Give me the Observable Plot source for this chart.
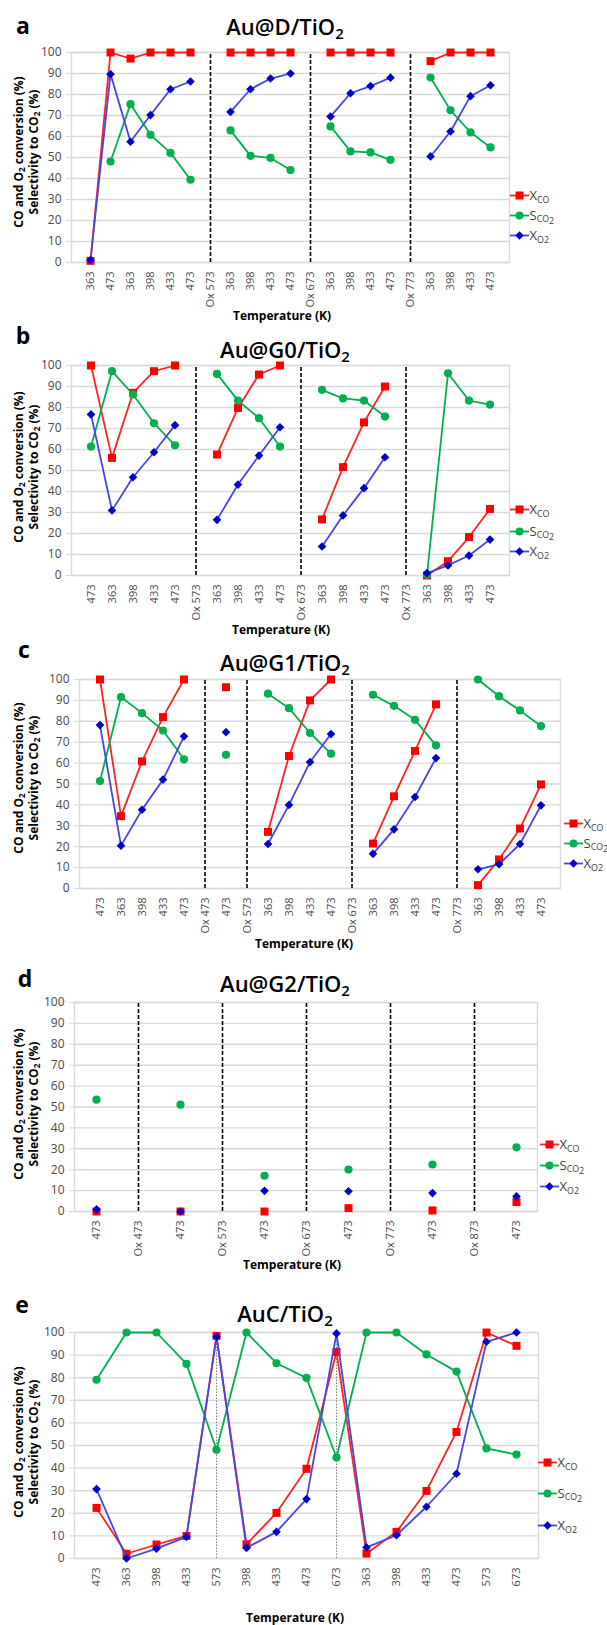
<!DOCTYPE html>
<html><head><meta charset="utf-8">
<script src="https://cdn.jsdelivr.net/npm/d3@7"></script>
<script src="https://cdn.jsdelivr.net/npm/@observablehq/plot@0.6"></script>
<style>
body{margin:0;background:#fff;}
#page{position:relative;width:607px;height:1625px;overflow:hidden;background:#fff;font-family:"Open Sans",sans-serif;}
.abs{position:absolute;white-space:nowrap;line-height:1;}
.c{transform:translate(-50%,-50%);}
.rot{transform:translate(-50%,-50%) rotate(-90deg);}
.letter{font-weight:700;font-size:23px;color:#000;}
.title{font-size:22px;font-weight:600;color:#000;}
.xt{font-size:12px;font-weight:700;color:#000;}
.yt{font-size:12px;font-weight:700;color:#000;}
.leg{font-size:13px;color:#404040;display:flex;align-items:center;}
sub{font-size:0.68em;line-height:0;vertical-align:-0.3em;}
sub sub{font-size:1em;vertical-align:-0.25em;}
svg.plot{position:absolute;left:0;}
</style>
</head><body><div id="page"></div>
<script>
// ---------- data ----------
// Panel a: Au@D/TiO2
const catsA = ["363","473","363","398","433","473","Ox 573","363","398","433","473","Ox 673","363","398","433","473","Ox 773","363","398","433","473"];
const xcoA  = [0.8,100,97.1,100,100,100,null,100,100,100,100,null,100,100,100,100,null,95.9,100,100,100];
const sco2A = [null,48.1,75.4,60.8,52.2,39.4,null,62.9,50.8,49.8,44,null,64.8,52.9,52.4,48.9,null,88.1,72.5,62,54.8];
const xo2A  = [1.1,89.7,57.5,70.2,82.5,86.2,null,71.7,82.5,87.6,90,null,69.5,80.6,84,88,null,50.5,62.4,79.2,84.4];

// Panel b: Au@G0/TiO2
const catsB = ["473","363","398","433","473","Ox 573","363","398","433","473","Ox 673","363","398","433","473","Ox 773","363","398","433","473"];
const xcoB  = [100,56,87,97.3,100,null,57.6,79.8,95.7,100,null,26.7,51.6,72.9,90,null,0,6.8,18.3,31.7];
const sco2B = [61.4,97.3,86.2,72.5,62,null,96,83.3,74.9,61.4,null,88.4,84.3,83.3,75.7,null,0.3,96.3,83.3,81.4];
const xo2B  = [76.7,31,46.8,58.7,71.6,null,26.5,43.3,57.1,70.6,null,13.8,28.6,41.6,56.3,null,1.1,4.8,9.5,17.1];

// Panel c: Au@G1/TiO2
const catsC = ["473","363","398","433","473","Ox 473","473","Ox 573","363","398","433","473","Ox 673","363","398","433","473","Ox 773","363","398","433","473"];
const xcoC  = [100,34.6,60.8,82,100,null,96.3,null,27.1,63.4,90,100,null,21.5,44.1,65.8,88.1,null,1.6,13.9,28.7,49.8];
const sco2C = [51.4,91.6,83.9,75.6,61.8,null,64,null,93.2,86.3,74.4,64.5,null,92.7,87.4,80.7,68.5,null,100,92,85.2,77.7];
const xo2C  = [78.2,20.5,37.7,52.1,72.8,null,74.8,null,21.3,40,60.5,73.9,null,16.6,28.3,43.8,62.4,null,9.2,11.6,21.3,39.8];

// Panel d: Au@G2/TiO2
const catsD = ["473","Ox 473","473","Ox 573","473","Ox 673","473","Ox 773","473","Ox 873","473"];
const xcoD  = [0,null,0,null,0,null,1.6,null,0.5,null,4.5];
const sco2D = [53.5,null,51.1,null,17.1,null,20.1,null,22.5,null,30.7];
const xo2D  = [1,null,0,null,9.9,null,9.7,null,8.8,null,7.2];

// Panel e: AuC/TiO2
const catsE = ["473","363","398","433","573","398","433","473","673","363","398","433","473","573","673"];
const xcoE  = [22.4,2.1,6.2,10,98.5,6.3,20.2,39.7,91.4,2.2,11.8,29.9,56,100,94.1];
const sco2E = [79.1,100,100,86.1,48.1,100,86.4,79.9,44.7,100,100,90.3,82.7,48.7,46];
const xo2E  = [30.7,0,4.4,9.6,98.1,4.7,11.8,26.3,99.6,4.9,10.3,22.9,37.5,95.9,100];
const dottedE = [4, 8];

const yTicks = [0,10,20,30,40,50,60,70,80,90,100];

// ---------- layout ----------
const panels = [
  {letter:"a", title:"Au@D/TiO<sub>2</sub>", cats:catsA, xco:xcoA, sco2:sco2A, xo2:xo2A,
   top:0, h:320, ml:71, mr:98, mt:52, mb:58,
   L:[23,25], T:[285,26], X:[282,316], Y:152, G:[519,[195,215,235]]},
  {letter:"b", title:"Au@G0/TiO<sub>2</sub>", cats:catsB, xco:xcoB, sco2:sco2B, xo2:xo2B,
   top:320, h:310, ml:71, mr:98, mt:45, mb:55,
   L:[23,335], T:[285,349], X:[281,630], Y:467, G:[519,[509,531,551]]},
  {letter:"c", title:"Au@G1/TiO<sub>2</sub>", cats:catsC, xco:xcoC, sco2:sco2C, xo2:xo2C,
   top:630, h:320, ml:79, mr:47, mt:49, mb:62,
   L:[24,649], T:[285,662], X:[304,944], Y:778, G:[573,[823,843,863]]},
  {letter:"d", title:"Au@G2/TiO<sub>2</sub>", cats:catsD, xco:xcoD, sco2:sco2D, xo2:xo2D,
   top:950, h:320, ml:74, mr:70, mt:52, mb:59,
   L:[25,978], T:[285,983], X:[292,1265], Y:1104, G:[549,[1144,1165,1186]]},
  {letter:"e", title:"AuC/TiO<sub>2</sub>", cats:catsE, xco:xcoE, sco2:sco2E, xo2:xo2E, dotted:dottedE,
   top:1270, h:355, ml:74, mr:69, mt:62, mb:67,
   L:[22,1304], T:[285,1313], X:[295,1618], Y:1442, G:[547,[1462,1493,1525]]}
];

const styles = [
  {key:"xco",  name:"X<sub>CO</sub>", line:"#ff2222", fill:"#ff0000", symbol:"square", r:4.5},
  {key:"sco2", name:"S<sub>CO<sub>2</sub></sub>", line:"#00b050", fill:"#00b050", symbol:"circle", r:4.1},
  {key:"xo2",  name:"X<sub>O2</sub>", line:"#4646e6", fill:"#0000c8", symbol:"diamond2", r:3.9}
];

const page = document.getElementById("page");
function add(html, x, y, cls) {
  const d = document.createElement("div");
  d.className = "abs " + cls;
  d.style.left = x + "px"; d.style.top = y + "px";
  d.innerHTML = html;
  page.appendChild(d);
  return d;
}

function markerSVG(s) {
  let m;
  if (s.symbol === "square") m = `<rect x="5.5" y="2.5" width="8" height="8" fill="${s.fill}"/>`;
  else if (s.symbol === "circle") m = `<circle cx="9.5" cy="6.5" r="4" fill="${s.fill}"/>`;
  else m = `<path d="M9.5,2.3L13.7,6.5L9.5,10.7L5.3,6.5Z" fill="${s.fill}"/>`;
  return `<svg width="19" height="13" style="display:block"><line x1="0" y1="6.5" x2="19" y2="6.5" stroke="${s.line}" stroke-width="1.8"/>${m}</svg>`;
}

for (const P of panels) {
  const n = P.cats.length;
  const idx = d3.range(n);
  const ox = idx.filter(i => P.cats[i].startsWith("Ox"));
  const marks = [
    Plot.gridY(yTicks, {stroke:"#d9d9d9", strokeOpacity:1, strokeWidth:1.4}),
    Plot.frame({stroke:"#d9d9d9", strokeWidth:1.4}),
    Plot.axisY(yTicks, {tickSize:5, tickPadding:5, stroke:"#d9d9d9", fill:"#4a4a4a", fontSize:12, label:null}),
    Plot.axisX({tickSize:0, tickPadding:9, tickRotate:-90, tickFormat:i => P.cats[i], fill:"#4a4a4a", fontSize:11, label:null}),
    Plot.ruleX(ox, {y1:0, y2:100, stroke:"#000", strokeWidth:1.6, strokeDasharray:"4,2"})
  ];
  if (P.dotted) marks.push(Plot.ruleX(P.dotted, {y1:0, y2:100, stroke:"#7f7f7f", strokeWidth:1, strokeDasharray:"1.5,1.5"}));
  for (const s of styles) {
    const rows = idx.map(i => ({i, v: P[s.key][i]}));
    marks.push(Plot.line(rows, {x:"i", y:"v", stroke:s.line, strokeWidth:1.8}));
    marks.push(Plot.dot(rows.filter(d => d.v != null), {x:"i", y:"v", symbol:s.symbol, r:s.r, fill:s.fill, stroke:"none"}));
  }
  const svg = Plot.plot({
    width:607, height:P.h,
    marginLeft:P.ml, marginRight:P.mr, marginTop:P.mt, marginBottom:P.mb,
    style:{fontFamily:"Open Sans", background:"transparent", overflow:"visible"},
    x:{type:"band", domain:idx, padding:0},
    y:{domain:[0,100]},
    marks
  });
  svg.style.top = P.top + "px";
  page.appendChild(svg);

  add(P.letter, P.L[0], P.L[1], "c letter");
  add(P.title, P.T[0], P.T[1], "c title");
  add("Temperature (K)", P.X[0], P.X[1], "c xt");
  add("CO and O<sub>2</sub> conversion (%)", 19, P.Y, "rot yt");
  add("Selectivity to CO<sub>2</sub> (%)", 34, P.Y, "rot yt");
  styles.forEach((s, k) => {
    add(markerSVG(s) + `<span style="margin-left:1px">${s.name}</span>`, P.G[0] - 9.5, P.G[1][k] - 6.5, "leg");
  });
}
</script></body></html>
